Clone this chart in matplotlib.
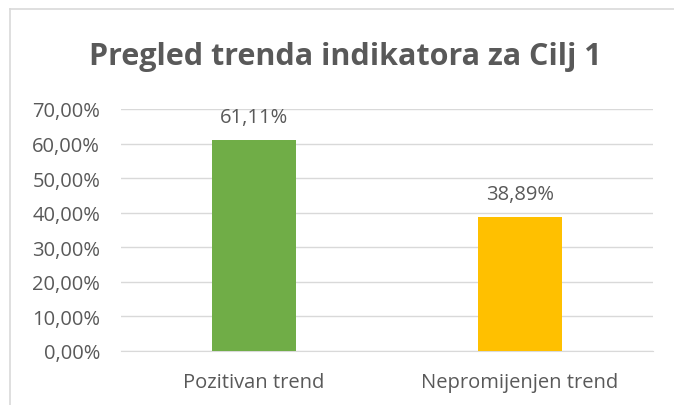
import matplotlib
matplotlib.use("Agg")
import matplotlib.pyplot as plt
from matplotlib.ticker import FuncFormatter, MultipleLocator
from matplotlib.lines import Line2D

categories = ["Pozitivan trend", "Nepromijenjen trend"]
values = [61.11, 38.89]
colors = ["#70AD47", "#FFC000"]
title = "Pregled trenda indikatora za Cilj 1"

plt.rcParams['font.family'] = ['Open Sans', 'DejaVu Sans']
txt = "#595959"

fig = plt.figure(figsize=(6.74, 4.06), dpi=100)
ax = fig.add_axes([121/674, 54/406, 532/674, 242/406])

x = list(range(len(categories)))
bars = ax.bar(x, values, width=0.318, color=colors, zorder=3)
ax.set_xlim(-0.5, 1.5)
ax.set_ylim(0, 70)
ax.yaxis.set_major_locator(MultipleLocator(10))
ax.yaxis.set_major_formatter(FuncFormatter(lambda v, p: f"{v:.2f}".replace(".", ",") + "%"))
ax.set_xticks(x)
ax.set_xticklabels(categories)
ax.grid(axis='y', color="#D9D9D9", linewidth=1, zorder=0)
for s in ["top", "right", "left"]:
    ax.spines[s].set_visible(False)
ax.spines["bottom"].set_color("#D9D9D9")
ax.tick_params(axis='both', length=0, colors=txt, labelsize=14.5)
ax.tick_params(axis='y', pad=15)
ax.tick_params(axis='x', pad=15)

for b, v in zip(bars, values):
    ax.annotate(f"{v:.2f}".replace(".", ",") + "%", (b.get_x() + b.get_width()/2, v),
                xytext=(0, 9), textcoords="offset points", ha="center", va="bottom",
                color=txt, fontsize=14.5)

fig.text(345/674, 1 - 57/406, title, ha="center", va="center", fontsize=22,
         fontweight="bold", color=txt)

# chart border
fig.add_artist(Line2D([10/674, 10/674], [0, 1 - 10/406], transform=fig.transFigure, color="#D9D9D9", lw=1.2))
fig.add_artist(Line2D([10/674, 1], [1 - 10/406, 1 - 10/406], transform=fig.transFigure, color="#D9D9D9", lw=1.2))

fig.savefig("out.png", dpi=100)
